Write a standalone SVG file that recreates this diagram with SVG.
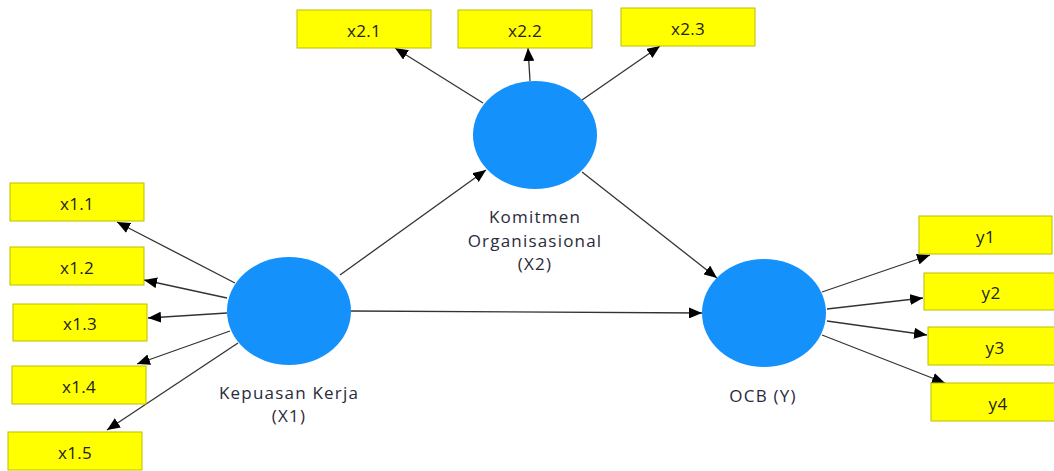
<svg xmlns="http://www.w3.org/2000/svg" width="1054" height="471" viewBox="0 0 1054 471">
<style>
.ind rect{fill:#ffff00;stroke:#bdbd00;stroke-width:1}
.ind text{font-family:"Open Sans","Noto Sans",sans-serif;font-size:17px;letter-spacing:0.3px;fill:#222;text-anchor:middle;dominant-baseline:central}
.lat ellipse{fill:#1591fc}
.lat text{font-family:"Open Sans","Noto Sans",sans-serif;font-size:17px;letter-spacing:1.2px;fill:#2a2a3a;text-anchor:middle}
.con line{stroke:#333;stroke-width:1.3;marker-end:url(#ah)}
</style>
<defs>
<marker id="ah" viewBox="0 0 13 11" refX="13" refY="5.5" markerWidth="13" markerHeight="11" markerUnits="userSpaceOnUse" orient="auto">
<path d="M0,0 L13,5.5 L0,11 z" fill="#000"/>
</marker>
</defs>
<rect width="1054" height="471" fill="#fff"/>
<g class="con">
<line x1="235" y1="283" x2="117" y2="222"/>
<line x1="227" y1="298" x2="144" y2="280"/>
<line x1="227" y1="313" x2="148" y2="318"/>
<line x1="230" y1="331" x2="137" y2="364"/>
<line x1="238" y1="343" x2="107" y2="430"/>
<line x1="340" y1="275" x2="486" y2="170"/>
<line x1="351" y1="311" x2="702" y2="313"/>
<line x1="582" y1="172" x2="717" y2="278"/>
<line x1="483" y1="103" x2="395" y2="48"/>
<line x1="530" y1="81" x2="528" y2="48"/>
<line x1="582" y1="100" x2="660" y2="46"/>
<line x1="822" y1="292" x2="930" y2="255"/>
<line x1="827" y1="309" x2="923" y2="298"/>
<line x1="827" y1="321" x2="927" y2="335"/>
<line x1="822" y1="335" x2="945" y2="383"/>
</g>
<g id="x1_1" class="ind"><rect x="10" y="183" width="134" height="38"/><text x="77" y="203">x1.1</text></g>
<g id="x1_2" class="ind"><rect x="10" y="247" width="134" height="38"/><text x="77" y="267">x1.2</text></g>
<g id="x1_3" class="ind"><rect x="13" y="304" width="134" height="37"/><text x="80" y="323.5">x1.3</text></g>
<g id="x1_4" class="ind"><rect x="12" y="366" width="134" height="38"/><text x="79" y="386">x1.4</text></g>
<g id="x1_5" class="ind"><rect x="8" y="432" width="134" height="38"/><text x="75" y="452">x1.5</text></g>
<g id="x2_1" class="ind"><rect x="297" y="10" width="134" height="38"/><text x="364" y="30">x2.1</text></g>
<g id="x2_2" class="ind"><rect x="458" y="10" width="134" height="38"/><text x="525" y="30">x2.2</text></g>
<g id="x2_3" class="ind"><rect x="621" y="8" width="134" height="38"/><text x="688" y="28">x2.3</text></g>
<g id="y1" class="ind"><rect x="919" y="216" width="133" height="38"/><text x="985.5" y="236">y1</text></g>
<g id="y2" class="ind"><rect x="924" y="273" width="134" height="37"/><text x="991" y="292.5">y2</text></g>
<g id="y3" class="ind"><rect x="928" y="327" width="134" height="38"/><text x="995" y="347">y3</text></g>
<g id="y4" class="ind"><rect x="931" y="383" width="134" height="38"/><text x="998" y="403">y4</text></g>
<g id="X1" class="lat"><ellipse cx="289" cy="311" rx="62" ry="54"/><text x="289" y="399">Kepuasan Kerja</text><text x="289" y="422">(X1)</text></g>
<g id="X2" class="lat"><ellipse cx="535" cy="135" rx="62" ry="54"/><text x="535" y="223">Komitmen</text><text x="535" y="247">Organisasional</text><text x="535" y="270">(X2)</text></g>
<g id="Y" class="lat"><ellipse cx="764" cy="313" rx="62" ry="54"/><text x="763" y="402">OCB (Y)</text></g>
</svg>
